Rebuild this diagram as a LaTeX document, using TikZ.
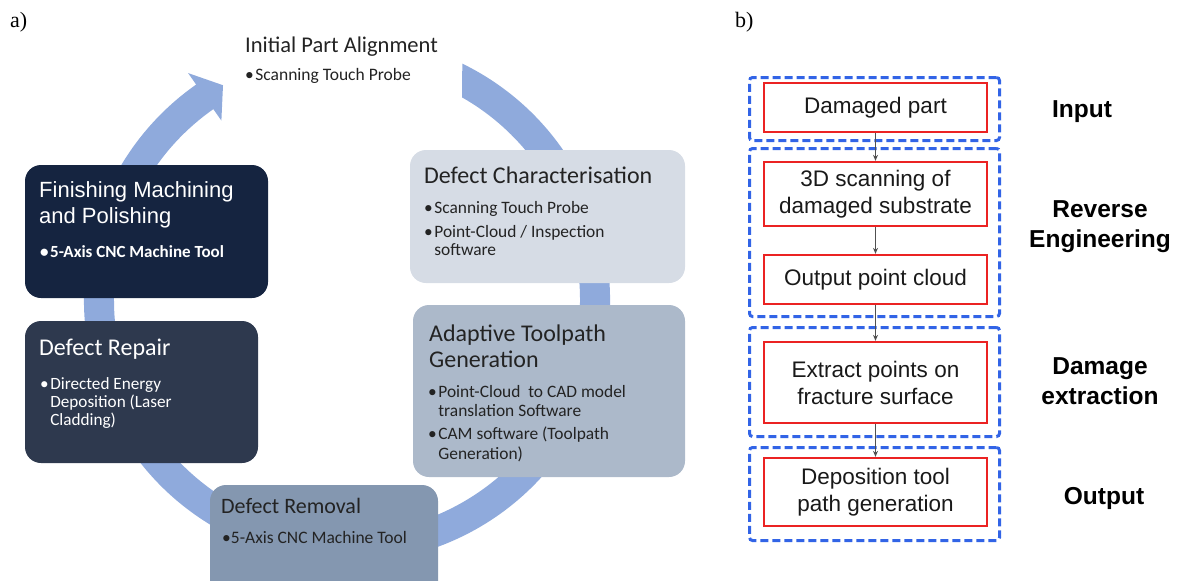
\documentclass[tikz,border=0pt]{standalone}
\usepackage{fontspec}
\newfontfamily\calib{Carlito}
\newfontfamily\arialf{Liberation Sans}
\newfontfamily\timesf{Liberation Serif}
\usetikzlibrary{arrows.meta}
\definecolor{ringc}{RGB}{143,170,220}
\definecolor{finc}{RGB}{21,36,64}
\definecolor{repc}{RGB}{46,57,78}
\definecolor{remc}{RGB}{132,151,176}
\definecolor{adac}{RGB}{172,185,202}
\definecolor{defc}{RGB}{214,220,229}
\definecolor{txt}{RGB}{35,35,35}
\definecolor{dblue}{RGB}{50,100,230}
\definecolor{rred}{RGB}{235,35,35}
\definecolor{agray}{RGB}{80,80,80}
\newcommand\fs[2]{\fontsize{#1}{#2}\selectfont}
\newcommand\tl[1]{\begin{tabular}[t]{@{}l@{}}#1\end{tabular}}
\newcommand\tc[1]{\begin{tabular}[t]{@{}c@{}}#1\end{tabular}}
\newcommand\bul{•\hspace{1.5pt}}
\newcommand\ind{\phantom{\bul}}
\tikzset{
  pbox/.style={anchor=north west, rounded corners=16pt, inner sep=0pt, outer sep=0pt},
  tt/.style={anchor=base west, inner sep=0pt, text=txt},
  wt/.style={anchor=base west, inner sep=0pt, text=white},
  dbox/.style={anchor=north west, draw=dblue, line width=3pt, dash pattern=on 8pt off 4pt, rounded corners=3pt, minimum width=250pt, inner sep=0pt},
  rbox/.style={draw=rred, line width=2.3pt, minimum width=223pt, align=center, inner sep=0pt, font=\arialf\fs{22.5}{27}, text=black!90},
  arr/.style={draw=agray, line width=1.2pt, -{Stealth[length=6pt,width=5pt]}},
  lab/.style={anchor=base, inner sep=0pt, font=\arialf\bfseries\fs{24.5}{30}, text=black}
}
\begin{document}
\begin{tikzpicture}[x=1pt,y=-1pt]
\useasboundingbox (0,0) rectangle (1181,581);
% labels a) b)
\node[anchor=base west, inner sep=0pt, font=\timesf\fs{22}{26}] (la) at (10,27) {a)};
\node[anchor=base west, inner sep=0pt, font=\timesf\fs{22}{26}] (lb) at (735,27) {b)};
% ring arrow
\fill[ringc, shift={(347,300)}] (-64:263) arc[start angle=-64, end angle=235, radius=263]
  -- (235:277) -- (240:248) -- (235:219) -- (235:233)
  arc[start angle=235, end angle=-60.4, radius=233] -- cycle;
% Initial part alignment
\node[tt, font=\calib\fs{22.5}{27}] (ini) at (245,52) {Initial Part Alignment};
\node[tt, font=\calib\fs{17.5}{20}] (inib) at (245,80) {\bul Scanning Touch Probe};
% Defect characterisation
\node[pbox, fill=defc, minimum width=275pt, minimum height=133pt] (char) at (410,150) {};
\node[tt, font=\calib\fs{24}{28}] (chart) at (424,183) {Defect Characterisation};
\node[tt, font=\calib\fs{17.4}{18.7}] (charb) at (424,213) {\tl{\bul Scanning Touch Probe\\[5.3pt]\bul Point-Cloud / Inspection\\\ind software}};
% Adaptive toolpath
\node[pbox, fill=adac, minimum width=272pt, minimum height=172pt] (ada) at (413,305) {};
\node[tt, font=\calib\fs{24}{26}] (adat) at (429,341) {\tl{Adaptive Toolpath\\Generation}};
\node[tt, font=\calib\fs{17.4}{19.5}] (adab) at (428,397) {\tl{\bul Point-Cloud\ \ to CAD model\\\ind translation Software\\[3.5pt]\bul CAM software (Toolpath\\\ind Generation)}};
% Defect removal
\begin{scope}
\clip (0,0) rectangle (1181,581);
\node[pbox, fill=remc, minimum width=228pt, minimum height=115pt] (rem) at (210,485) {};
\end{scope}
\node[tt, font=\calib\fs{22}{26}] (remt) at (221,513) {Defect Removal};
\node[tt, font=\calib\fs{17.5}{20}] (remb) at (222,543) {•5-Axis CNC Machine Tool};
% Defect repair
\node[pbox, fill=repc, minimum width=233pt, minimum height=142pt] (rep) at (25,321) {};
\node[wt, font=\calib\fs{24}{28}] (rept) at (39,355) {Defect Repair};
\node[wt, font=\calib\fs{17.2}{18}] (repb) at (40,389) {\tl{\bul Directed Energy\\\ind Deposition (Laser\\\ind Cladding)}};
% Finishing
\node[pbox, fill=finc, minimum width=243pt, minimum height=133pt] (fin) at (25,165) {};
\node[wt, font=\arialf\fs{22}{26}] (fint) at (39,197) {\tl{Finishing Machining\\and Polishing}};
\node[wt, font=\calib\bfseries\fs{17}{20}] (finb) at (40,257) {\bul 5-Axis CNC Machine Tool};
% right panel
\node[dbox, minimum height=63pt] (d1) at (748,76) {};
\node[dbox, minimum height=168pt] (d2) at (748,147) {};
\node[dbox, minimum height=109pt] (d3) at (748,326) {};
\node[dbox, minimum height=93pt] (d4) at (748,446) {};
\node[rbox, minimum height=49pt] (r1) at (875.5,107.5) {Damaged part};
\node[rbox, minimum height=64pt] (r2) at (875.5,194) {3D scanning of\\damaged substrate};
\node[rbox, minimum height=49pt] (r3) at (875.5,279.5) {Output point cloud};
\node[rbox, minimum height=81pt] (r4) at (875.5,382.5) {Extract points on\\fracture surface};
\node[rbox, minimum height=68pt] (r5) at (875.5,492) {Deposition tool\\path generation};
\draw[arr] (r1.south) -- (r2.north);
\draw[arr] (r2.south) -- (r3.north);
\draw[arr] (r3.south) -- (r4.north);
\draw[arr] (r4.south) -- (r5.north);
\node[lab] (lin) at (1082,117) {Input};
\node[lab] (lre) at (1100,217) {\tc{Reverse\\Engineering}};
\node[lab] (lda) at (1100,374) {\tc{Damage\\extraction}};
\node[lab] (lou) at (1104,504) {Output};
\end{tikzpicture}
\end{document}
